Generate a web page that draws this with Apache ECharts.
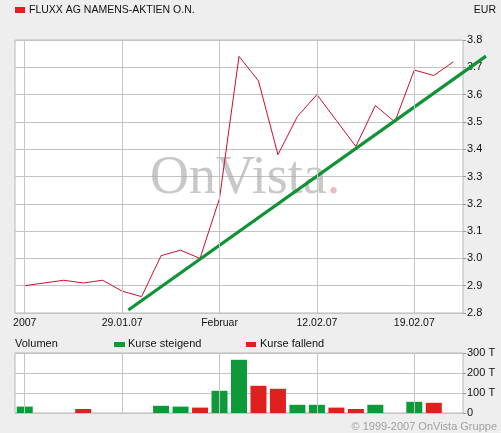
<!DOCTYPE html>
<html><head><meta charset="utf-8">
<script src="https://cdn.jsdelivr.net/npm/echarts@6/dist/echarts.min.js"></script>
<style>html,body{margin:0;padding:0;background:#eeeeee}#c{width:501px;height:433px}</style>
</head><body><div id="c"></div>
<script>
const dates = ['22.01.07','23.01.07','24.01.07','25.01.07','26.01.07','29.01.07','30.01.07','31.01.07','01.02.07','02.02.07','05.02.07','06.02.07','07.02.07','08.02.07','09.02.07','12.02.07','13.02.07','14.02.07','15.02.07','16.02.07','19.02.07','20.02.07','21.02.07'];
const tickIdx = [0, 5, 10, 15, 20];
const tickLabels = ['2007', '29.01.07', 'Februar', '12.02.07', '19.02.07'];
const prices = [2.90, 2.91, 2.92, 2.91, 2.92, 2.88, 2.86, 3.01, 3.03, 3.00, 3.22, 3.74, 3.65, 3.38, 3.52, 3.60, 3.505, 3.41, 3.56, 3.50, 3.69, 3.67, 3.72];
const trendX = [5.32, 23.68];
const trendY = [2.811, 3.741];
const volUp = [32, null, null, null, null, null, null, 36, 32, null, 111, 266, null, null, 41, 41, null, null, 41, null, 56, null, null];
const volDown = [null, null, null, 20, null, null, null, null, null, 27, null, null, 136, 121, null, null, 27, 20, null, null, null, 51, null];
const volTickLabels = ['0', '100 T', '200 T', '300 T'];

const GRID = '#c4c4c4';
const FONT = '"Liberation Sans", Arial, sans-serif';
const chart = echarts.init(document.getElementById('c'), null, {renderer: 'canvas'});
const vGrid = (xi, yi, d) => ({
  type: 'line', xAxisIndex: xi, yAxisIndex: yi, data: d, symbol: 'none', silent: true, z: 1,
  lineStyle: {opacity: 0}, animation: false,
  markLine: {silent: true, symbol: 'none', animation: false, label: {show: false},
    lineStyle: {color: GRID, type: 'solid', width: 1},
    data: tickIdx.map(i => ({xAxis: dates[i]}))}
});
// plot width 448 px spans 23 trading days; trend grid extends to x=486
const stepPx = 448 / dates.length;
const trendGridWidth = 471;
chart.setOption({
  backgroundColor: '#eeeeee',
  animation: false,
  textStyle: {fontFamily: FONT},
  grid: [
    {left: 15, top: 40, width: 448, height: 273, show: true, backgroundColor: '#ffffff', borderColor: '#b8b8b8', borderWidth: 1},
    {left: 15, top: 353, width: 448, height: 60, show: true, backgroundColor: '#ffffff', borderColor: '#b8b8b8', borderWidth: 1},
    {left: 15, top: 40, width: trendGridWidth, height: 273, show: false}
  ],
  xAxis: [
    {type: 'category', gridIndex: 0, data: dates, boundaryGap: true,
      axisLine: {show: false}, axisTick: {show: false}, splitLine: {show: false},
      axisLabel: {interval: (i) => tickIdx.indexOf(i) >= 0, formatter: (v, i) => tickLabels[tickIdx.indexOf(i)] || '',
        margin: 5, fontSize: 10.5, color: '#111', fontFamily: FONT}},
    {type: 'category', gridIndex: 1, data: dates, boundaryGap: true,
      axisLine: {show: false}, axisTick: {show: false}, splitLine: {show: false}, axisLabel: {show: false}},
    {type: 'value', gridIndex: 2, min: -0.5, max: -0.5 + trendGridWidth / stepPx, show: false}
  ],
  yAxis: [
    {type: 'value', gridIndex: 0, position: 'right', min: 2.8, max: 3.8, interval: 0.1,
      axisLine: {show: false}, axisTick: {show: true, length: 3, lineStyle: {color: '#999'}},
      splitLine: {show: true, lineStyle: {color: GRID, width: 1}},
      axisLabel: {margin: 4, fontSize: 11, color: '#111', fontFamily: FONT, formatter: v => v.toFixed(1)}},
    {type: 'value', gridIndex: 1, position: 'right', min: 0, max: 300, interval: 100,
      axisLine: {show: false}, axisTick: {show: true, length: 3, lineStyle: {color: '#999'}},
      splitLine: {show: true, lineStyle: {color: GRID, width: 1}},
      axisLabel: {margin: 4, fontSize: 11, color: '#111', fontFamily: FONT, formatter: v => volTickLabels[Math.round(v / 100)]}},
    {type: 'value', gridIndex: 2, min: 2.8, max: 3.8, show: false}
  ],
  series: [
    vGrid(0, 0, prices),
    vGrid(1, 1, volUp.map(() => 0)),
    {name: 'Kurs', type: 'line', xAxisIndex: 0, yAxisIndex: 0, data: prices, symbol: 'none', z: 3,
      lineStyle: {color: '#c8102e', width: 1}},
    {name: 'Trend', type: 'line', xAxisIndex: 2, yAxisIndex: 2, data: trendX.map((x, i) => [x, trendY[i]]),
      symbol: 'none', clip: false, z: 4, lineStyle: {color: '#109236', width: 3.2}},
    {name: 'Kurse steigend', type: 'bar', xAxisIndex: 1, yAxisIndex: 1, data: volUp, barWidth: 16, barGap: '-100%',
      itemStyle: {color: '#0f9a3a'}, z: 3},
    {name: 'Kurse fallend', type: 'bar', xAxisIndex: 1, yAxisIndex: 1, data: volDown, barWidth: 16, barGap: '-100%',
      itemStyle: {color: '#e0201f'}, z: 3}
  ],
  graphic: [
    {type: 'text', z: 1, left: 150, top: 152, silent: true,
      style: {text: '{a|OnVista}{b|.}', rich: {
        a: {fontFamily: '"Liberation Serif", "DejaVu Serif", serif', fontSize: 54, fill: 'rgba(170,170,170,0.65)'},
        b: {fontFamily: '"Liberation Serif", "DejaVu Serif", serif', fontSize: 54, fill: 'rgba(225,160,170,0.7)'}}}},
    {type: 'rect', shape: {x: 15, y: 7, width: 10, height: 6}, style: {fill: '#e0201f'}},
    {type: 'text', x: 29, y: 10, style: {text: 'FLUXX AG NAMENS-AKTIEN O.N.', fontSize: 10.5, fontFamily: FONT, fill: '#111', verticalAlign: 'middle'}},
    {type: 'text', x: 496, y: 10, style: {text: 'EUR', fontSize: 10.5, fontFamily: FONT, fill: '#111', align: 'right', verticalAlign: 'middle'}},
    {type: 'text', x: 15, y: 344, style: {text: 'Volumen', fontSize: 11, fontFamily: FONT, fill: '#111', verticalAlign: 'middle'}},
    {type: 'rect', shape: {x: 114, y: 342, width: 11, height: 5}, style: {fill: '#0f9a3a'}},
    {type: 'text', x: 128, y: 344, style: {text: 'Kurse steigend', fontSize: 11, fontFamily: FONT, fill: '#111', verticalAlign: 'middle'}},
    {type: 'rect', shape: {x: 246, y: 342, width: 10, height: 5}, style: {fill: '#e0201f'}},
    {type: 'text', x: 260, y: 344, style: {text: 'Kurse fallend', fontSize: 11, fontFamily: FONT, fill: '#111', verticalAlign: 'middle'}},
    {type: 'text', x: 497, y: 427, style: {text: '© 1999-2007 OnVista Gruppe', fontSize: 11, fontFamily: FONT, fill: '#a0a0a0', align: 'right', verticalAlign: 'middle'}}
  ]
});
</script></body></html>
